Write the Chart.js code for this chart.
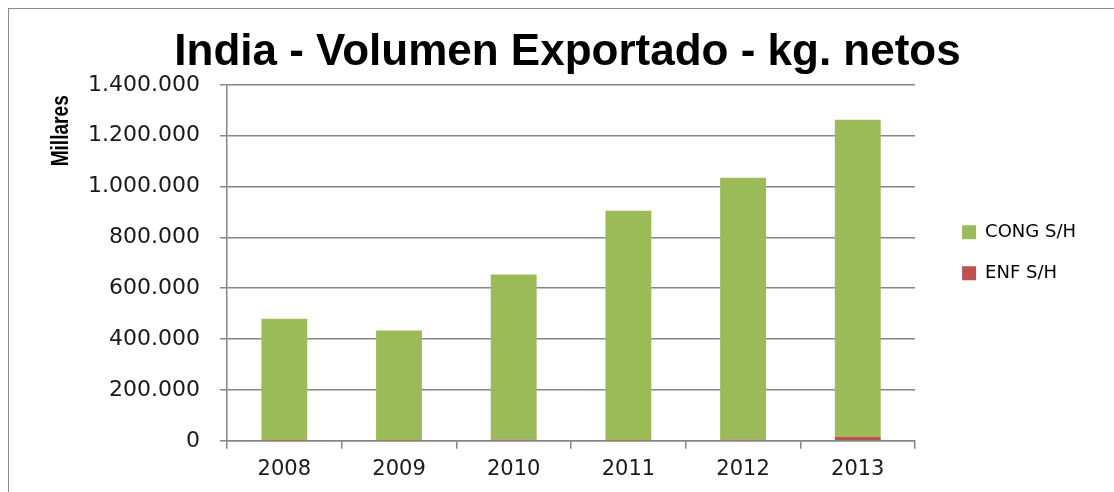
<!DOCTYPE html>
<html>
<head>
<meta charset="utf-8">
<script src="https://cdn.jsdelivr.net/npm/chart.js@4.4.1/dist/chart.umd.min.js"></script>
<style>
  html, body { margin: 0; padding: 0; background: #fff; overflow: hidden; }
  #frame { position: absolute; left: 8px; top: 8px; width: 2000px; height: 2000px; border: 1px solid #8c8c8c; }
  #wrap { position: absolute; left: 0; top: 0; width: 1114px; height: 492px; }
</style>
</head>
<body>
<div id="frame"></div>
<div id="wrap"><canvas id="chart"></canvas></div>
<script>
// datos (miles de kg)
const years = ['2008', '2009', '2010', '2011', '2012', '2013'];
const congSH = [479500, 432500, 650000, 903000, 1030000, 1248000];
const enfSH = [300, 1500, 4000, 1500, 4500, 15000];
const yTicks = [0, 200000, 400000, 600000, 800000, 1000000, 1200000, 1400000];

const GREEN = '#9BBB59';
const RED = '#C0504D';
const GRID = '#868686';

function fmtMiles(v) {
  return String(v).replace(/\B(?=(\d{3})+(?!\d))/g, '.');
}

// etiqueta "Millares" arriba a la izquierda, como en Excel (letra estrecha)
const unitsLabel = {
  id: 'unitsLabel',
  afterDraw(chart) {
    const ctx = chart.ctx;
    const area = chart.chartArea;
    ctx.save();
    ctx.translate(area.left - 165, area.top + 46);
    ctx.rotate(-Math.PI / 2);
    ctx.scale(0.83, 1);
    ctx.font = 'bold 23px "Liberation Sans", Arial, sans-serif';
    ctx.fillStyle = '#000';
    ctx.textAlign = 'center';
    ctx.textBaseline = 'middle';
    ctx.fillText('Millares', 0, 0);
    ctx.restore();
  }
};

// mover la leyenda un poco a la derecha y arriba
const legendShift = {
  id: 'legendShift',
  afterLayout(chart) {
    const lg = chart.legend;
    if (!lg) return;
    lg.left += 24; lg.right += 24;
    lg.top -= 10; lg.bottom -= 10;
  }
};

const ctx = document.getElementById('chart').getContext('2d');
new Chart(ctx, {
  type: 'bar',
  data: {
    labels: years,
    datasets: [{
      label: 'ENF S/H',
      data: enfSH,
      backgroundColor: RED,
      borderWidth: 0,
      barPercentage: 0.4,
      categoryPercentage: 1.0
    }, {
      label: 'CONG S/H',
      data: congSH,
      backgroundColor: GREEN,
      borderWidth: 0,
      barPercentage: 0.4,
      categoryPercentage: 1.0
    }]
  },
  options: {
    responsive: true,
    maintainAspectRatio: false,
    animation: false,
    layout: { padding: { left: 73, right: 52, top: 0, bottom: 2 } },
    plugins: {
      title: {
        display: true,
        text: 'India - Volumen Exportado - kg. netos',
        color: '#000',
        font: { family: '"Liberation Sans", Arial, sans-serif', size: 44, weight: 'bold' },
        padding: { top: 26, bottom: 6 }
      },
      legend: {
        position: 'right',
        fullSize: false,
        reverse: true,
        labels: {
          boxWidth: 14,
          boxHeight: 14,
          padding: 23,
          color: '#000',
          font: { family: '"DejaVu Sans", sans-serif', size: 18 }
        }
      },
      tooltip: { enabled: false }
    },
    scales: {
      x: {
        stacked: true,
        grid: { drawOnChartArea: false, drawTicks: true, tickLength: 8, color: GRID, lineWidth: 1.5, offset: true },
        border: { color: GRID, width: 1.5 },
        ticks: {
          color: '#1a1a1a',
          padding: 8,
          font: { family: '"DejaVu Sans", sans-serif', size: 21 }
        }
      },
      y: {
        stacked: true,
        min: 0,
        max: 1400000,
        afterFit(scale) { scale.width = 154; },
        afterBuildTicks(scale) { scale.ticks = yTicks.map(v => ({ value: v })); },
        grid: { color: GRID, lineWidth: 1.5, tickLength: 7 },
        border: { color: GRID, width: 1.5 },
        ticks: {
          color: '#1a1a1a',
          padding: 20,
          font: { family: '"DejaVu Sans", sans-serif', size: 22 },
          callback: v => fmtMiles(v)
        }
      }
    }
  },
  plugins: [unitsLabel, legendShift]
});
</script>
</body>
</html>
